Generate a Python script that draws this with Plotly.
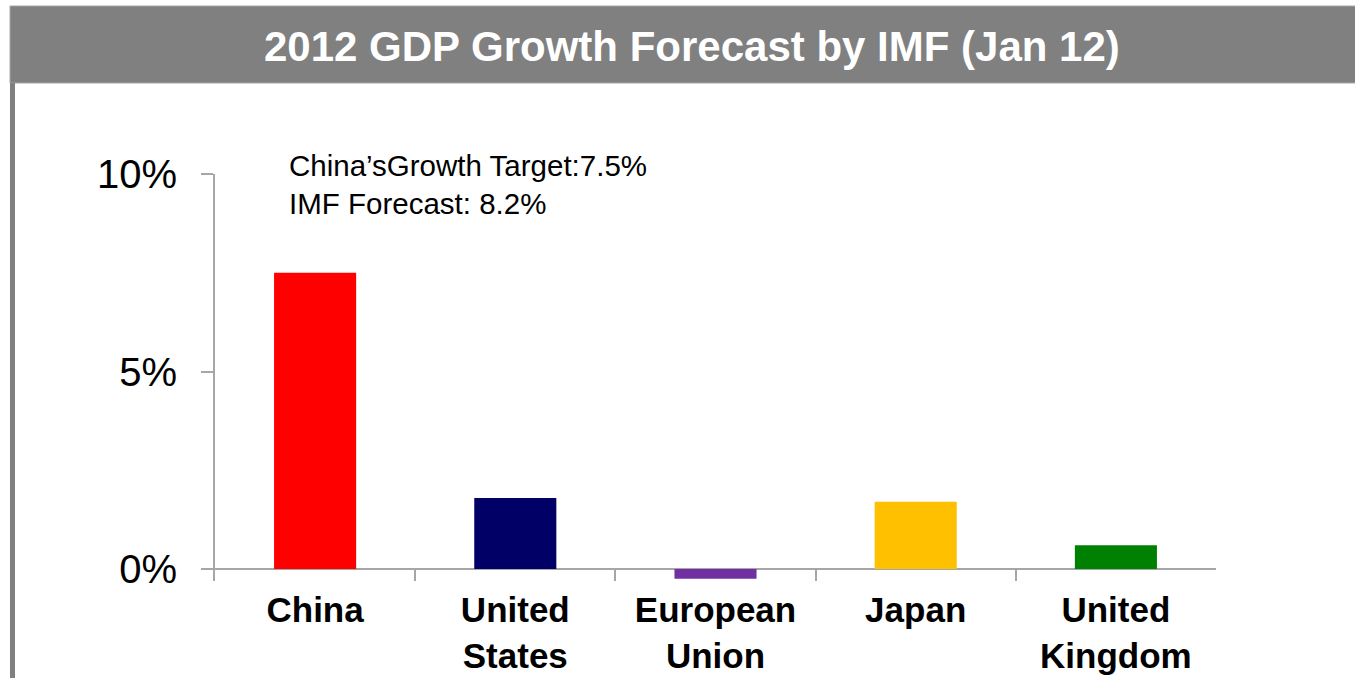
import plotly.graph_objects as go

# ---- data ----
categories = ["China", "United<br>States", "European<br>Union", "Japan", "United<br>Kingdom"]
growth = [7.5, 1.8, -0.25, 1.7, 0.6]
bar_colors = ["#FF0000", "#000066", "#7030A0", "#FFC000", "#008000"]
y_tick_vals = [0, 5, 10]
y_tick_text = ["0%", "5%", "10%"]
china_target = 7.5
imf_forecast = 8.2
title_text = "2012 GDP Growth Forecast by IMF (Jan 12)"

FONT = "Liberation Sans, Arial, sans-serif"
W, H = 1355, 678
ML, MR, MT, MB = 215, 139, 174, 97
PW, PH = W - ML - MR, H - MT - MB


def px_x(X):
    return (X - ML) / PW


def px_y(Y):
    return (H - MB - Y) / PH


fig = go.Figure()
fig.add_trace(go.Bar(
    x=categories, y=growth, marker=dict(color=bar_colors, line=dict(width=0)),
    width=0.41, showlegend=False, hoverinfo="skip",
))

fig.update_layout(
    width=W, height=H,
    margin=dict(l=ML, r=MR, t=MT, b=MB, pad=0, autoexpand=False),
    paper_bgcolor="white", plot_bgcolor="white",
    font=dict(family=FONT, color="black"),
    xaxis=dict(
        type="category", showline=False, showgrid=False, zeroline=False, automargin=False,
        ticks="inside", tickson="boundaries", ticklen=12, tickwidth=2, tickcolor="#A6A6A6",
        tickfont=dict(family=FONT, size=35, color="black", weight="bold"),
        ticklabelstandoff=5,
        range=[-0.5, 4.5],
    ),
    yaxis=dict(
        range=[-0.304, 10], showline=True, linecolor="#A6A6A6", linewidth=2, automargin=False,
        showgrid=False, zeroline=True, zerolinecolor="#A6A6A6", zerolinewidth=2,
        ticks="outside", ticklen=12, tickwidth=2, tickcolor="#A6A6A6",
        tickvals=y_tick_vals, ticktext=y_tick_text,
        tickfont=dict(family=FONT, size=40, color="black"),
        ticklabelstandoff=16,
    ),
    shapes=[
        # header bar
        dict(type="rect", xref="paper", yref="paper",
             x0=px_x(10), x1=px_x(1360), y0=px_y(83), y1=px_y(6),
             fillcolor="#808080", line=dict(color="#A6A6A6", width=1), layer="below"),
        # left border
        dict(type="rect", xref="paper", yref="paper",
             x0=px_x(10), x1=px_x(15), y0=px_y(690), y1=px_y(83),
             fillcolor="#808080", line=dict(width=0), layer="below"),
    ],
    annotations=[
        dict(text=f"<b>{title_text}</b>", xref="paper", yref="paper",
             x=px_x(692), y=px_y(46), xanchor="center", yanchor="middle",
             showarrow=False, font=dict(family=FONT, size=42, color="white")),
        dict(text=f"China\u2019sGrowth Target:{china_target}%<br>IMF Forecast: {imf_forecast}%",
             xref="paper", yref="paper", x=px_x(287), y=px_y(185),
             xanchor="left", yanchor="middle", align="left", showarrow=False,
             font=dict(family=FONT, size=29.5, color="black")),
    ],
)

fig.write_html("out.html")
